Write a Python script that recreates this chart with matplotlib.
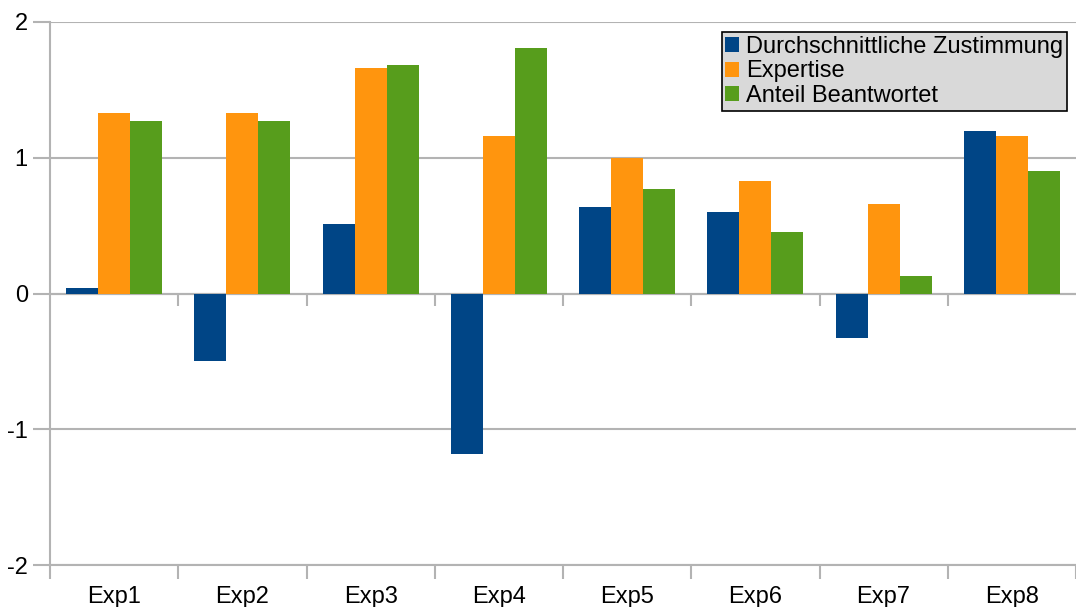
import numpy as np
import matplotlib.pyplot as plt

# data
categories = ["Exp1", "Exp2", "Exp3", "Exp4", "Exp5", "Exp6", "Exp7", "Exp8"]
zustimmung = [0.04, -0.50, 0.51, -1.18, 0.64, 0.60, -0.33, 1.20]
expertise = [1.33, 1.33, 1.66, 1.16, 1.00, 0.83, 0.66, 1.16]
beantwortet = [1.27, 1.27, 1.68, 1.81, 0.77, 0.45, 0.13, 0.90]
series_names = ["Durchschnittliche Zustimmung", "Expertise", "Anteil Beantwortet"]

colors = ["#004586", "#ff950e", "#579d1c"]
grid_col = "#b3b3b3"

plt.rcParams['font.family'] = ['Liberation Sans', 'DejaVu Sans']

fig = plt.figure(figsize=(10.76, 6.07), dpi=100)
ax = fig.add_axes([50 / 1076, 42 / 607, 1026 / 1076, 543 / 607])

x = np.arange(len(categories))
w = 0.25
for i, (vals, name) in enumerate(zip([zustimmung, expertise, beantwortet], series_names)):
    ax.bar(x + (i - 1) * w, vals, w, color=colors[i], label=name, zorder=3)

ax.set_xlim(-0.5, len(categories) - 0.5)
ax.set_ylim(-2, 2)
ax.set_yticks([-2, -1, 0, 1, 2])
ax.set_yticklabels(["-2", "-1", "0", "1", "2"])
ax.yaxis.grid(True, color=grid_col, linewidth=1.5, zorder=0)

# category labels at centres, tick marks at group boundaries
ax.set_xticks(x)
ax.set_xticklabels(categories)
ax.set_xticks(np.arange(len(categories) + 1) - 0.5, minor=True)
ax.tick_params(axis='x', which='major', length=0, labelsize=17, pad=15)
ax.tick_params(axis='x', which='minor', length=10, width=1.5, color=grid_col)
ax.tick_params(axis='y', length=12, width=1.5, color=grid_col, labelsize=17, pad=4)

# zero line with small boundary marks
ax.axhline(0, color=grid_col, linewidth=1.5, zorder=2)
ax.vlines(np.arange(1, len(categories)) - 0.5, -0.09, 0, color=grid_col, linewidth=1.5, zorder=2)

for s in ["top", "right"]:
    ax.spines[s].set_visible(False)
for s in ["left", "bottom"]:
    ax.spines[s].set_color(grid_col)
    ax.spines[s].set_linewidth(1.5)

leg = fig.legend(loc="upper right", bbox_to_anchor=(1067 / 1076, (607 - 32) / 607), fontsize=17,
                 frameon=True, fancybox=False, facecolor="#d9d9d9", edgecolor="black",
                 framealpha=1, handlelength=0.6, handleheight=0.6, handletextpad=0.3,
                 borderpad=0.15, labelspacing=0.12, borderaxespad=0)
leg.get_frame().set_linewidth(1.2)

fig.savefig("out.png", dpi=100)
